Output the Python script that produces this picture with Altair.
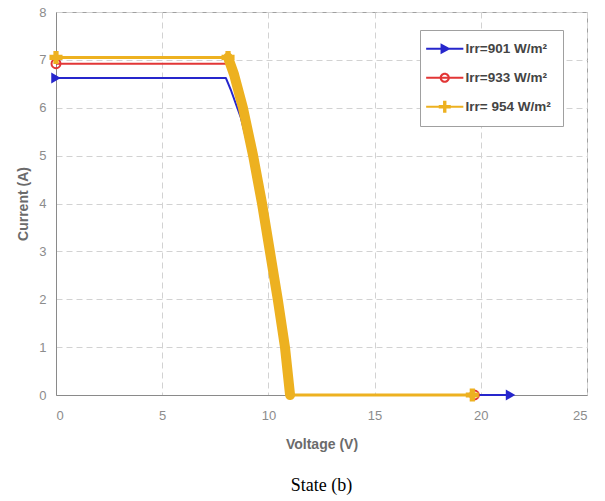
import altair as alt
import pandas as pd

# ---- data ----
series_names = ["Irr=901 W/m²", "Irr=933 W/m²", "Irr= 954 W/m²"]

v_901 = [0.0, 8.0, 8.25, 8.7, 9.15, 9.6, 9.98, 10.35, 10.68, 10.95, 21.4]
i_901 = [6.62, 6.62, 6.35, 5.8, 5.0, 4.0, 3.0, 2.0, 1.0, 0.0, 0.0]

v_933 = [0.0, 8.05, 8.3, 8.75, 9.22, 9.65, 10.02, 10.39, 10.73, 11.0, 19.7]
i_933 = [6.92, 6.92, 6.65, 5.95, 5.0, 4.0, 3.0, 2.0, 1.0, 0.0, 0.0]

v_954 = [0.0, 8.1, 8.38, 8.8, 9.28, 9.7, 10.07, 10.44, 10.78, 11.02, 19.6]
i_954 = [7.05, 7.05, 6.7, 6.0, 5.0, 4.0, 3.0, 2.0, 1.0, 0.0, 0.0]

x_ticks = [0, 5, 10, 15, 20, 25]
y_ticks = [0, 1, 2, 3, 4, 5, 6, 7, 8]

# ---- styles ----
colors = ["#2626cc", "#e23636", "#edb120"]
marker_shapes = ["triangle-right", "circle", "cross"]
marker_filled = [True, False, True]
marker_sizes = [120, 80, 170]
line_widths = [2, 2, 3]

# legend symbols: line + marker (unit coordinates)
bar = "M-3.1,-0.17H3.1V0.17H-3.1Z"
legend_paths = [
    bar + "M-0.7,-0.9L1.0,0L-0.7,0.9Z",
    bar + "M0.85,0A0.85,0.85,0,1,1,-0.85,0A0.85,0.85,0,1,1,0.85,0Z"
        + "M0.5,0A0.5,0.5,0,1,0,-0.5,0A0.5,0.5,0,1,0,0.5,0Z",
    bar + "M-0.28,-1.0H0.28V-0.28H1.0V0.28H0.28V1.0H-0.28V0.28H-1.0V-0.28H-0.28Z",
]

rows = []
for name, vs, cs in [(series_names[0], v_901, i_901),
                     (series_names[1], v_933, i_933),
                     (series_names[2], v_954, i_954)]:
    n = len(vs)
    for k, (v, c) in enumerate(zip(vs, cs)):
        rows.append({"series": name, "V": v, "I": c, "ord": k,
                     "drop": 1 <= k <= n - 2,
                     "end": k == 0 or k == n - 1,
                     "knee": k == 1})
df = pd.DataFrame(rows)

x_enc = alt.X("V:Q", scale=alt.Scale(domain=[0, 25], nice=False),
              axis=alt.Axis(values=x_ticks, title="Voltage (V)"))
y_enc = alt.Y("I:Q", scale=alt.Scale(domain=[0, 8], nice=False),
              axis=alt.Axis(values=y_ticks, title="Current (A)"))

base = alt.Chart(df)
layers = []
for idx, name in enumerate(series_names):
    sel = base.transform_filter(alt.datum.series == name)
    layers.append(
        sel.mark_line(color=colors[idx], strokeWidth=line_widths[idx], strokeJoin="round")
        .encode(x=x_enc, y=y_enc, order="ord:Q")
    )
    if idx == 2:
        layers.append(
            sel.transform_filter(alt.datum.drop)
            .mark_line(color=colors[idx], strokeWidth=10, strokeJoin="round", strokeCap="round")
            .encode(x=x_enc, y=y_enc, order="ord:Q")
        )
        msel = sel.transform_filter(alt.datum.end | alt.datum.knee)
    else:
        msel = sel.transform_filter(alt.datum.end)
    if marker_filled[idx]:
        pt = msel.mark_point(shape=marker_shapes[idx], filled=True, opacity=1,
                             color=colors[idx], size=marker_sizes[idx])
    else:
        pt = msel.mark_point(shape=marker_shapes[idx], filled=False, opacity=1,
                             color=colors[idx], strokeWidth=2, size=marker_sizes[idx])
    layers.append(pt.encode(x=x_enc, y=y_enc))

legend_def = alt.Legend(
    title=None, orient="none", legendX=364, legendY=18,
    padding=12, strokeColor="#a0a0a0", fillColor="white",
    symbolSize=144, symbolOffset=6, labelOffset=14, rowPadding=14,
    symbolStrokeWidth=0,
    labelFont="Liberation Sans", labelFontSize=13.5, labelFontWeight="bold",
    labelColor="#444444", labelLimit=300,
)
legend_layer = (
    base.transform_filter("false")
    .mark_point(filled=True, opacity=1)
    .encode(
        color=alt.Color("series:N", scale=alt.Scale(domain=series_names, range=colors),
                        legend=legend_def),
        shape=alt.Shape("series:N", scale=alt.Scale(domain=series_names, range=legend_paths),
                        legend=legend_def),
    )
)
layers.append(legend_layer)

chart = (
    alt.layer(*layers)
    .properties(
        width=531, height=383,
        autosize=alt.AutoSizeParams(type="none"),
        padding={"left": 56, "top": 12, "right": 18, "bottom": 106},
        title=alt.TitleParams("State (b)", orient="bottom", anchor="middle",
                              font="Liberation Serif", fontSize=18, fontWeight="normal",
                              color="#000000", offset=26),
        background="white",
    )
    .configure_view(stroke="#a0a0a0", strokeWidth=1)
    .configure_axis(
        grid=True, gridDash=[6, 4], gridColor="#d2d2d2", gridWidth=1,
        ticks=False, tickSize=0,
        domainColor="#8a8a8a", domainWidth=1,
        labelFont="Liberation Sans", labelFontSize=13, labelColor="#8c8c8c",
        labelPadding=10,
        titleFont="Liberation Sans", titleFontSize=14, titleFontWeight="bold",
        titleColor="#6b6b6b",
    )
    .configure_axisX(labelPadding=14, titlePadding=15)
    .configure_axisY(titlePadding=8)
)

chart.save("out.html", embed_options={"renderer": "svg", "actions": False})
